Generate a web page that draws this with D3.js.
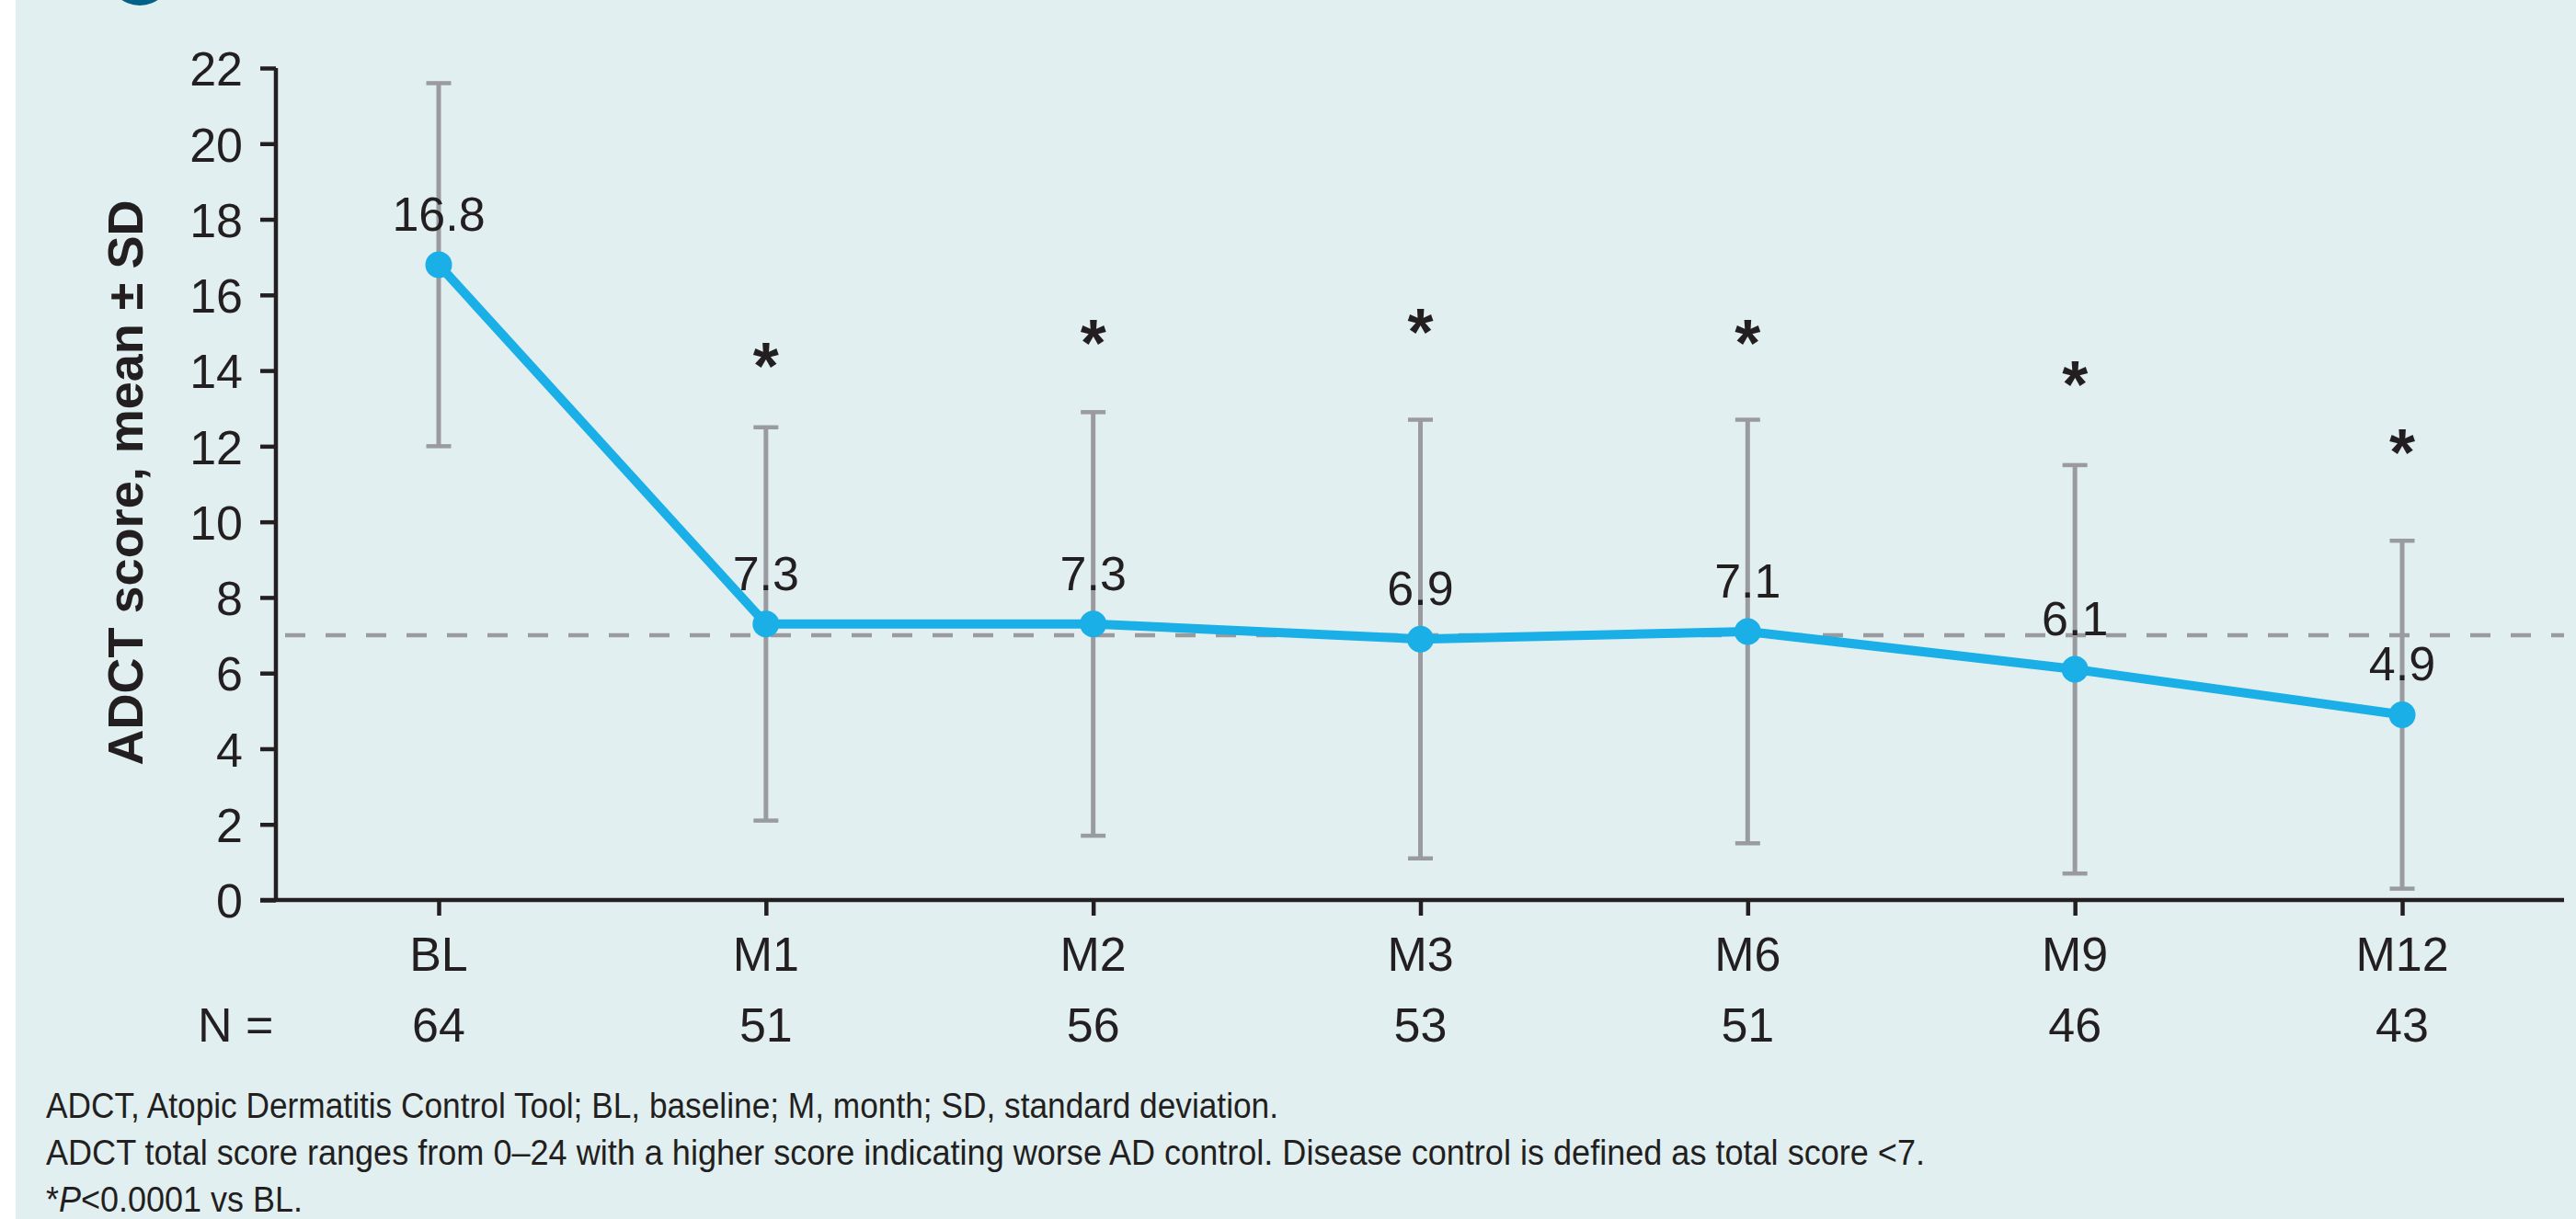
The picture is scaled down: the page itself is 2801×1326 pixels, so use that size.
<!DOCTYPE html>
<html>
<head>
<meta charset="utf-8">
<script src="https://cdn.jsdelivr.net/npm/d3@7"></script>
<style>
  html, body { margin: 0; padding: 0; background: #ffffff; }
  svg { display: block; }
  text { font-family: "Liberation Sans", Arial, Helvetica, sans-serif; fill: #231f20; }
</style>
</head>
<body>
<svg id="chart" width="2801" height="1326"></svg>
<script>
// Visit labels, patients assessed, ADCT mean and SD at each visit
const visits = ["BL", "M1", "M2", "M3", "M6", "M9", "M12"];
const nPatients = [64, 51, 56, 53, 51, 46, 43];
const meanScore = [16.8, 7.3, 7.3, 6.9, 7.1, 6.1, 4.9];
const sdScore = [4.8, 5.2, 5.6, 5.8, 5.6, 5.4, 4.6];
// Height (in score units) of the significance marker above each visit; null = none
const starLevel = [null, 14.5, 15.1, 15.4, 15.1, 14.0, 12.2];
const yTicks = [0, 2, 4, 6, 8, 10, 12, 14, 16, 18, 20, 22];
const controlThreshold = 7;
const footnotes = [
  "ADCT, Atopic Dermatitis Control Tool; BL, baseline; M, month; SD, standard deviation.",
  "ADCT total score ranges from 0\u201324 with a higher score indicating worse AD control. Disease control is defined as total score <7."
];

const svg = d3.select("#chart");
const ink = "#231f20";
const grey = "#9a9b9f";
const blue = "#1aafe6";

// panel background
svg.append("rect").attr("x", 17).attr("y", 0).attr("width", 2801 - 17).attr("height", 1326).attr("fill", "#e1eff1");
// panel badge peeking in at the top
svg.append("circle").attr("cx", 152).attr("cy", -29).attr("r", 35).attr("fill", "#00628a");

const x = d3.scalePoint().domain(visits).range([477, 2612]);
const y = d3.scaleLinear().domain([0, 22]).range([979, 74]);
const axisX0 = 300, axisXEnd = 2788;

// y axis
const yAxis = svg.append("g")
  .attr("transform", `translate(${axisX0},0)`)
  .call(d3.axisLeft(y).tickValues(yTicks).tickSize(17).tickPadding(19).tickFormat(d3.format("d")));
yAxis.select(".domain").attr("d", `M0,${y(0)}V${y(22)}`).attr("stroke", ink).attr("stroke-width", 4.5);
yAxis.selectAll(".tick line").attr("stroke", ink).attr("stroke-width", 4.5);
yAxis.selectAll(".tick text").attr("font-size", 52).attr("fill", ink)
  .attr("font-family", "Liberation Sans, Arial, sans-serif").attr("dy", "0.36em");

// x axis
const xAxis = svg.append("g")
  .attr("transform", `translate(0,${y(0)})`)
  .call(d3.axisBottom(x).tickSize(17).tickPadding(0));
xAxis.select(".domain").attr("d", `M${axisX0 - 17},0H${axisXEnd}`).attr("stroke", ink).attr("stroke-width", 4.5);
xAxis.selectAll(".tick line").attr("stroke", ink).attr("stroke-width", 4.5);
xAxis.selectAll(".tick text").remove();

// visit labels and N row
svg.append("g").selectAll("text").data(visits).join("text")
  .attr("x", d => x(d)).attr("y", 1056).attr("text-anchor", "middle").attr("font-size", 52).text(d => d);
svg.append("text").attr("x", 215).attr("y", 1133).attr("font-size", 52).text("N =");
svg.append("g").selectAll("text").data(nPatients).join("text")
  .attr("x", (d, i) => x(visits[i])).attr("y", 1133).attr("text-anchor", "middle").attr("font-size", 52).text(d => d);

// y axis title
svg.append("text")
  .attr("transform", `translate(155,${525}) rotate(-90)`)
  .attr("text-anchor", "middle").attr("font-size", 54).attr("font-weight", "bold")
  .text("ADCT score, mean \u00b1 SD");

// disease-control threshold
svg.append("line")
  .attr("x1", axisX0).attr("x2", axisXEnd).attr("y1", y(controlThreshold)).attr("y2", y(controlThreshold))
  .attr("stroke", grey).attr("stroke-width", 4.5).attr("stroke-dasharray", "22,22").attr("stroke-dashoffset", -10);

// error bars
const rows = visits.map((v, i) => ({ v, m: meanScore[i], sd: sdScore[i], n: nPatients[i], star: starLevel[i] }));
const eb = svg.append("g").selectAll("g").data(rows).join("g");
eb.append("line").attr("x1", d => x(d.v)).attr("x2", d => x(d.v))
  .attr("y1", d => y(d.m + d.sd)).attr("y2", d => y(d.m - d.sd))
  .attr("stroke", grey).attr("stroke-width", 5);
eb.append("line").attr("x1", d => x(d.v) - 13.5).attr("x2", d => x(d.v) + 13.5)
  .attr("y1", d => y(d.m + d.sd)).attr("y2", d => y(d.m + d.sd))
  .attr("stroke", grey).attr("stroke-width", 4.5);
eb.append("line").attr("x1", d => x(d.v) - 13.5).attr("x2", d => x(d.v) + 13.5)
  .attr("y1", d => y(d.m - d.sd)).attr("y2", d => y(d.m - d.sd))
  .attr("stroke", grey).attr("stroke-width", 4.5);

// mean line and markers
const line = d3.line().x(d => x(d.v)).y(d => y(d.m));
svg.append("path").datum(rows).attr("d", line)
  .attr("fill", "none").attr("stroke", blue).attr("stroke-width", 10).attr("stroke-linejoin", "round");
svg.append("g").selectAll("circle").data(rows).join("circle")
  .attr("cx", d => x(d.v)).attr("cy", d => y(d.m)).attr("r", 14.5).attr("fill", blue);

// mean value labels
svg.append("g").selectAll("text").data(rows).join("text")
  .attr("x", d => x(d.v)).attr("y", d => y(d.m) - 37)
  .attr("text-anchor", "middle").attr("font-size", 52).text(d => d.m.toFixed(1));

// significance markers
svg.append("g").selectAll("text").data(rows.filter(d => d.star !== null)).join("text")
  .attr("x", d => x(d.v)).attr("y", d => y(d.star) + 40)
  .attr("text-anchor", "middle").attr("font-size", 72).attr("font-weight", "bold").text("*");

// footnotes (condensed setting)
const fnWidths = [1340, 2043];
footnotes.forEach((t, i) => {
  svg.append("text").attr("x", 50).attr("y", 1216 + i * 51).attr("font-size", 38)
    .attr("textLength", fnWidths[i]).attr("lengthAdjust", "spacingAndGlyphs").text(t);
});
const f3 = svg.append("text").attr("x", 50).attr("y", 1318).attr("font-size", 38)
  .attr("textLength", 279).attr("lengthAdjust", "spacingAndGlyphs");
f3.append("tspan").text("*");
f3.append("tspan").attr("font-style", "italic").text("P");
f3.append("tspan").text("<0.0001 vs BL.");
</script>
</body>
</html>
